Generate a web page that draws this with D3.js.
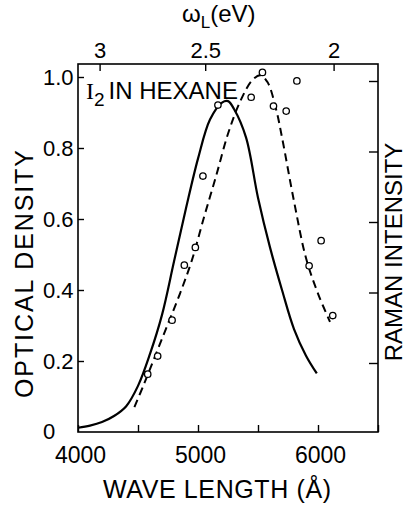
<!DOCTYPE html>
<html>
<head>
<meta charset="utf-8">
<script src="https://cdn.jsdelivr.net/npm/d3@7"></script>
<style>
  html, body { margin: 0; padding: 0; background: #fff; }
  svg { display: block; }
  text { font-family: "Liberation Sans", Arial, sans-serif; fill: #000; }
</style>
</head>
<body>
<svg id="chart" width="407" height="505"></svg>
<script>
// ---- data ----
const opticalWavelength = [4000, 4100, 4200, 4300, 4400, 4500, 4600, 4700, 4800, 4900, 5000, 5100, 5200, 5250, 5300, 5400, 5500, 5600, 5700, 5800, 5900, 5990];
const opticalDensity    = [0.012, 0.018, 0.028, 0.045, 0.072, 0.13, 0.22, 0.33, 0.48, 0.63, 0.77, 0.88, 0.928, 0.932, 0.91, 0.83, 0.66, 0.52, 0.40, 0.29, 0.215, 0.165];

const ramanFitWavelength = [4470, 4550, 4650, 4750, 4850, 4950, 5050, 5150, 5250, 5350, 5450, 5520, 5580, 5650, 5700, 5800, 5900, 6000, 6100];
const ramanFitIntensity  = [0.07, 0.135, 0.22, 0.305, 0.39, 0.485, 0.605, 0.72, 0.84, 0.93, 0.99, 1.005, 0.985, 0.91, 0.83, 0.65, 0.49, 0.39, 0.31];

const ramanPointWavelength = [4581, 4664, 4784, 4886, 4978, 5041, 5166, 5443, 5537, 5629, 5735, 5824, 5926, 6026, 6123];
const ramanPointIntensity  = [0.163, 0.214, 0.315, 0.47, 0.52, 0.721, 0.921, 0.943, 1.013, 0.918, 0.904, 0.989, 0.468, 0.539, 0.328];

const wavelengthTicks = [4000, 4500, 5000, 5500, 6000, 6500];
const wavelengthLabels = ["4000", "", "5000", "", "6000", ""];
const densityTicks = [0, 0.2, 0.4, 0.6, 0.8, 1.0];
const densityLabels = ["0", "0.2", "0.4", "0.6", "0.8", "1.0"];
const ramanTicks = [0.2, 0.4, 0.6, 0.8, 1.0];
const eVTicks = [3, 2.5, 2];
const eVTickWavelength = [4180, 5060, 6130]; // where the eV ticks sit on the wavelength axis
const eVLabels = ["3", "2.5", "2"];

// ---- layout ----
const svg = d3.select("#chart");
const mLeft = 78, mRight = 378, mTop = 64, mBottom = 432;

const x = d3.scaleLinear().domain([4000, 6500]).range([mLeft, mRight]);
const y = d3.scaleLinear().domain([0, 1]).range([mBottom, 77]);
const yR = d3.scaleLinear().domain([0, 1]).range([433.5, 81]);
const xTop = d3.scaleLinear().domain(eVTicks).range(eVTickWavelength.map(x));

// frame
svg.append("rect")
  .attr("x", mLeft).attr("y", mTop)
  .attr("width", mRight - mLeft).attr("height", mBottom - mTop)
  .attr("fill", "none").attr("stroke", "#000").attr("stroke-width", 1.6);

// bottom axis
const gB = svg.append("g").attr("transform", `translate(0,${mBottom})`)
  .call(d3.axisBottom(x).tickValues(wavelengthTicks)
    .tickFormat((d, i) => wavelengthLabels[i]).tickSizeInner(-7).tickSizeOuter(0).tickPadding(15));
gB.select(".domain").remove();
gB.selectAll(".tick line").attr("stroke-width", 1.4);
gB.selectAll(".tick text").attr("font-size", 23).attr("dy", "0.71em").attr("dx", 2);

// left axis
const gL = svg.append("g").attr("transform", `translate(${mLeft},0)`)
  .call(d3.axisLeft(y).tickValues(densityTicks)
    .tickFormat((d, i) => densityLabels[i]).tickSizeInner(-6).tickSizeOuter(0).tickPadding(0));
gL.select(".domain").remove();
gL.selectAll(".tick line").attr("stroke-width", 1.4);
gL.selectAll(".tick text").attr("font-size", 22)
  .attr("text-anchor", "start").attr("x", -35).attr("dy", "0.36em");
gL.selectAll(".tick").filter(d => d === 0).select("text").attr("dy", "0.3em");
gL.selectAll(".tick").filter(d => d === 0).select("line").remove();

// right axis (ticks only)
const gR = svg.append("g").attr("transform", `translate(${mRight},0)`)
  .call(d3.axisRight(yR).tickValues(ramanTicks).tickFormat("").tickSizeInner(-9).tickSizeOuter(0));
gR.select(".domain").remove();
gR.selectAll(".tick line").attr("stroke-width", 1.4);

// top axis (eV)
const gT = svg.append("g").attr("transform", `translate(0,${mTop})`)
  .call(d3.axisTop(xTop).tickValues(eVTicks)
    .tickFormat((d, i) => eVLabels[i]).tickSizeInner(-7).tickSizeOuter(0).tickPadding(6));
gT.select(".domain").remove();
gT.selectAll(".tick line").attr("stroke-width", 1.4);
gT.selectAll(".tick text").attr("font-size", 22);

// curves
const lineGen = d3.line().x(d => x(d[0])).y(d => y(d[1])).curve(d3.curveCatmullRom.alpha(0.5));
svg.append("path")
  .attr("d", lineGen(opticalWavelength.map((w, i) => [w, opticalDensity[i]])))
  .attr("fill", "none").attr("stroke", "#000").attr("stroke-width", 2.2);
svg.append("path")
  .attr("d", lineGen(ramanFitWavelength.map((w, i) => [w, ramanFitIntensity[i]])))
  .attr("fill", "none").attr("stroke", "#000").attr("stroke-width", 2)
  .attr("stroke-dasharray", "8,5");

svg.append("g").selectAll("circle")
  .data(ramanPointWavelength.map((w, i) => [w, ramanPointIntensity[i]]))
  .join("circle")
  .attr("cx", d => x(d[0])).attr("cy", d => y(d[1])).attr("r", 3.2)
  .attr("fill", "#fff").attr("stroke", "#000").attr("stroke-width", 1.3);

// annotation
const ann = svg.append("text").attr("x", 86).attr("y", 99).attr("font-size", 24);
ann.append("tspan").attr("font-family", "'Liberation Serif', serif").text("I");
ann.append("tspan").attr("font-size", 19).attr("dy", 7).text("2");
ann.append("tspan").attr("dy", -7).attr("dx", 4).text("IN HEXANE");

// axis titles
svg.append("text").attr("x", 217).attr("y", 498).attr("text-anchor", "middle")
  .attr("font-size", 25).attr("textLength", 228).attr("lengthAdjust", "spacing")
  .text("WAVE LENGTH  (Å)");

svg.append("text").attr("transform", "translate(33,274) rotate(-90)")
  .attr("text-anchor", "middle").attr("font-size", 25)
  .attr("textLength", 248).attr("lengthAdjust", "spacing").text("OPTICAL DENSITY");

svg.append("text").attr("transform", "translate(402,252) rotate(-90)")
  .attr("text-anchor", "middle").attr("font-size", 24).text("RAMAN INTENSITY");

const tt = svg.append("text").attr("x", 182).attr("y", 22).attr("font-size", 24);
tt.append("tspan").text("ω");
tt.append("tspan").attr("font-size", 17).attr("dy", 6).text("L");
tt.append("tspan").attr("dy", -6).text("(eV)");
</script>
</body>
</html>
